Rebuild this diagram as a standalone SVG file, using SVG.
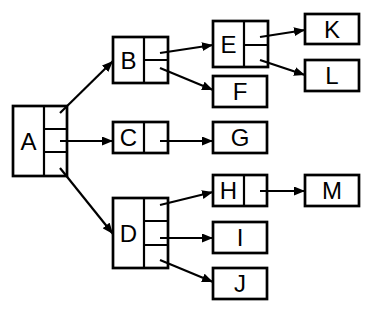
<svg xmlns="http://www.w3.org/2000/svg" width="386" height="317" viewBox="0 0 386 317">
<defs>
<marker id="arr" markerUnits="userSpaceOnUse" markerWidth="11" markerHeight="9" refX="11" refY="4.5" orient="auto">
<path d="M0,0 L11,4.5 L0,9 z" fill="#000"/>
</marker>
<style>
.box{fill:#fff;stroke:#000;stroke-width:2.7}
.div{fill:none;stroke:#000;stroke-width:2.2}
.lbl{font-family:"Liberation Sans",Arial,sans-serif;font-size:24px;fill:#000;text-anchor:middle}
.con{fill:none;stroke:#000;stroke-width:2.2;marker-end:url(#arr)}
</style>
</defs>
<rect width="386" height="317" fill="#fff"/>
<g id="A">
<rect class="box" x="13" y="106" width="54" height="70"/>
<path class="div" d="M44,106 V176 M44,129 H67 M44,152 H67"/>
<text class="lbl" x="28.5" y="149.5">A</text>
</g>
<g id="B">
<rect class="box" x="113" y="37" width="55" height="46"/>
<path class="div" d="M144,37 V83 M144,60 H168"/>
<text class="lbl" x="128.5" y="68.5">B</text>
</g>
<g id="C">
<rect class="box" x="113" y="122" width="55" height="31"/>
<path class="div" d="M144,122 V153"/>
<text class="lbl" x="128.5" y="146">C</text>
</g>
<g id="D">
<rect class="box" x="113" y="198" width="55" height="70"/>
<path class="div" d="M144,198 V268 M144,221 H168 M144,245 H168"/>
<text class="lbl" x="128.5" y="242">D</text>
</g>
<g id="E">
<rect class="box" x="213" y="21" width="55" height="46"/>
<path class="div" d="M244,21 V67 M244,45 H268"/>
<text class="lbl" x="228.5" y="52.5">E</text>
</g>
<g id="F">
<rect class="box" x="213" y="76" width="54" height="31"/>
<text class="lbl" x="240" y="100">F</text>
</g>
<g id="G">
<rect class="box" x="213" y="122" width="54" height="31"/>
<text class="lbl" x="240" y="146">G</text>
</g>
<g id="H">
<rect class="box" x="213" y="175" width="54" height="31"/>
<path class="div" d="M244,175 V206"/>
<text class="lbl" x="228.5" y="199">H</text>
</g>
<g id="I">
<rect class="box" x="213" y="222" width="54" height="31"/>
<text class="lbl" x="240" y="246">I</text>
</g>
<g id="J">
<rect class="box" x="213" y="268" width="54" height="31"/>
<text class="lbl" x="240" y="292">J</text>
</g>
<g id="K">
<rect class="box" x="305" y="14" width="54" height="30"/>
<text class="lbl" x="332" y="38">K</text>
</g>
<g id="L">
<rect class="box" x="305" y="60" width="54" height="31"/>
<text class="lbl" x="332" y="84">L</text>
</g>
<g id="M">
<rect class="box" x="305" y="175" width="54" height="31"/>
<text class="lbl" x="332" y="199">M</text>
</g>
<g id="connectors">
<line class="con" x1="60" y1="113" x2="113" y2="61"/>
<line class="con" x1="60" y1="141" x2="113" y2="141"/>
<line class="con" x1="60" y1="168" x2="113" y2="234"/>
<line class="con" x1="160" y1="53" x2="213" y2="45"/>
<line class="con" x1="160" y1="68" x2="213" y2="90"/>
<line class="con" x1="160" y1="141" x2="213" y2="141"/>
<line class="con" x1="160" y1="205" x2="213" y2="192"/>
<line class="con" x1="160" y1="238" x2="213" y2="238"/>
<line class="con" x1="160" y1="260" x2="213" y2="282"/>
<line class="con" x1="260" y1="37" x2="305" y2="30"/>
<line class="con" x1="260" y1="60" x2="305" y2="75"/>
<line class="con" x1="260" y1="191" x2="305" y2="191"/>
</g>
</svg>
